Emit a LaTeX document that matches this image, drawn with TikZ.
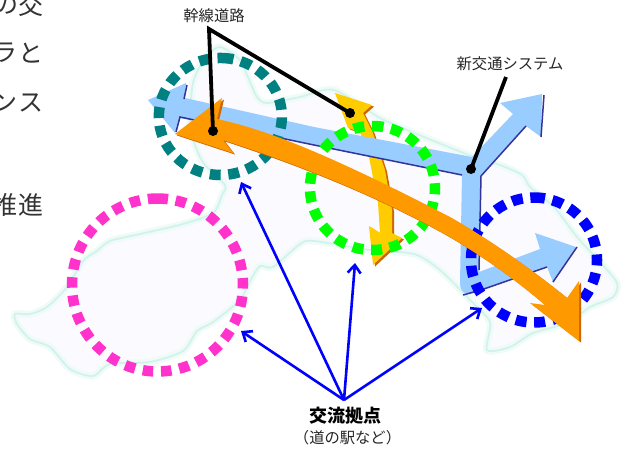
\documentclass[tikz,border=0pt]{standalone}
\usepackage{fontspec}
\newfontfamily\jp{Noto Sans CJK JP}
\usetikzlibrary{arrows.meta}
\definecolor{lblue}{HTML}{99CCFF}
\definecolor{dblue}{HTML}{333399}
\definecolor{orng}{HTML}{FF9900}
\definecolor{dorng}{HTML}{CC6600}
\definecolor{yell}{HTML}{FFCC00}
\definecolor{tealc}{HTML}{008080}
\definecolor{magc}{HTML}{FF33CC}
\definecolor{grnc}{HTML}{00FF00}
\definecolor{bluec}{HTML}{0000FF}
\definecolor{mapfill}{HTML}{FBFAFF}
\definecolor{mapglow}{HTML}{EEFBF8}
\definecolor{mapline}{HTML}{D3F3EA}
\tikzset{
  hubring/.style={line width=10.5pt,dash pattern=on 11pt off 7.6pt},
  leader/.style={line width=3.8pt,black},
  hubarrow/.style={line width=2.6pt,bluec,-{Straight Barb[length=8pt,width=13pt,line width=2.6pt]}},
  cut/.style={inner sep=0pt,font=\jp\fontsize{25}{25}\selectfont,text=black!80},
  lab/.style={inner sep=0pt,font=\jp\fontsize{15.3}{16}\selectfont,text=black!85},
  dot/.style={circle,fill=black,inner sep=0pt,minimum size=10pt},
}
\begin{document}
\begin{tikzpicture}[x=1pt,y=-1pt]
\useasboundingbox (0,0) rectangle (628,448);
% map
\def\mapshape{plot[smooth cycle,tension=0.45] coordinates {(15,314)(30,314)(47,307)(67,287)(83,261)(97,251)(110,241)(140,234)(183,224)(213,213)(222,195)(225,185)(205,165)(197,150)(190,125)(193,83)(205,58)(220,47)(240,60)(247,75)(257,97)(267,103)(300,97)(334,90)(380,118)(424,137)(474,157)(500,165)(522,175)(530,187)(554,207)(577,237)(600,262)(617,283)(613,297)(590,307)(567,323)(533,333)(510,347)(487,350)(490,322)(470,300)(440,270)(414,254)(370,250)(314,241)(300,244)(273,267)(260,266)(250,281)(240,300)(213,322)(197,331)(183,351)(150,362)(110,364)(93,376)(70,369)(50,347)(30,339)(17,324)}}
\fill[mapfill] \mapshape;
\draw[mapglow,line width=7pt] \mapshape;
\draw[mapline,line width=1.8pt] \mapshape;
% yellow arrow
\def\yellshape{(335,93)--(372,105)--(363,113)--(373,133)--(385,170)--(392,210)--(392,233)--(402,238)--(373,265)--(369,226)--(380,233)--(378,203)--(369,157)--(360,132)--(348,128)--cycle}
\fill[dorng,shift={(2,1.5)}] \yellshape;
\fill[yell] \yellshape;
% light blue arrow
\fill[lblue] (148,100)--(186,83)--(185,98)--(314,127)--(472,157)--(513,114)--(500,103)--(542,94)--(541,137)--(526,126)--(481,176)--(479,272)--(540,249)--(535,233)--(576,247)--(553,282)--(547,267)--(481,290)
 .. controls (472,295) and (460,297) .. (460,283)--(462,175)--(314,145)--(180,118)--(175,133)--cycle;
\draw[dblue,line width=1.5pt] (187,85)--(184,99);
\draw[dblue,line width=1.5pt] (176,132)--(180,117)--(314,145)--(462,175);
\draw[dblue,line width=1.5pt] (544,95)--(541,137);
\draw[dblue,line width=1.5pt] (526,126)--(481,176)--(479,270);
\draw[dblue,line width=1.5pt] (463,295)--(481,290)--(547,267);
\draw[dblue,line width=1.5pt] (553,282)--(577,247);
% rings: each starts at its top and runs clockwise
\draw[hubring,tealc] (222.5,58) arc [start angle=88,delta angle=-360,x radius=61.5pt,y radius=58.5pt];
\draw[hubring,magc,dash pattern=on 10.5pt off 7.8pt] (157.5,198.5) arc [start angle=90,delta angle=-360,x radius=85.5pt,y radius=86.5pt];
\draw[hubring,grnc] (372.5,126) arc [start angle=90,delta angle=-360,x radius=62.5pt,y radius=62pt];
\draw[hubring,bluec] (534,197.5) arc [start angle=90,delta angle=-360,x radius=63pt,y radius=62.5pt];
% orange arrow
\def\orshape{(175,134)--(222,98)--(217,119)
 .. controls (270,130) and (340,160) .. (450,217)
 .. controls (490,240) and (530,268) .. (567,298)
 --(579,281)--(579,341)--(530,303)--(545,305)
 .. controls (510,275) and (480,255) .. (450,237)
 .. controls (380,197) and (300,165) .. (223,140)
 --(233,153)--cycle}
\fill[dorng,shift={(2,1.5)}] \orshape;
\fill[orng] \orshape;
% leaders
\coordinate (apex) at (209,29);
\node[dot] (d1) at (213,131) {};
\node[dot] (d2) at (350,113) {};
\node[dot] (d3) at (471,169) {};
\coordinate (sys) at (506,77);
\draw[leader,line join=miter] (d1.center)--(apex)--(d2.center);
\draw[leader] (sys)--(d3.center);
% hub arrows
\coordinate (t1) at (241,182);
\coordinate (t2) at (241,331);
\coordinate (t3) at (355,263);
\coordinate (t4) at (482,308);
\coordinate (hub) at (344,400);
\draw[hubarrow] (hub)--(t1);
\draw[hubarrow] (hub)--(t2);
\draw[hubarrow] (hub)--(t3);
\draw[hubarrow] (hub)--(t4);
% labels
\node[lab] (l1) at (214,16) {幹線道路};
\node[lab] (l2) at (510,64) {新交通システム};
\node[inner sep=0pt,font=\jp\bfseries\fontsize{18}{18}\selectfont,text=black] (l3) at (345,416) {交流拠点};
\node[lab] (l4) at (347.5,438) {（道の駅など）};
% cut-off text at left edge
\node[cut] (c1a) at (31,5) {交};
\node[cut] (c1b) at (6,5) {の};
\node[cut] (c2a) at (31,53) {と};
\node[cut] (c2b) at (5,53) {ラ};
\node[cut] (c3a) at (31,103) {ス};
\node[cut] (c3b) at (5,103) {ン};
\node[cut] (c4a) at (31,205) {進};
\node[cut] (c4b) at (5,205) {推};
\end{tikzpicture}
\end{document}
